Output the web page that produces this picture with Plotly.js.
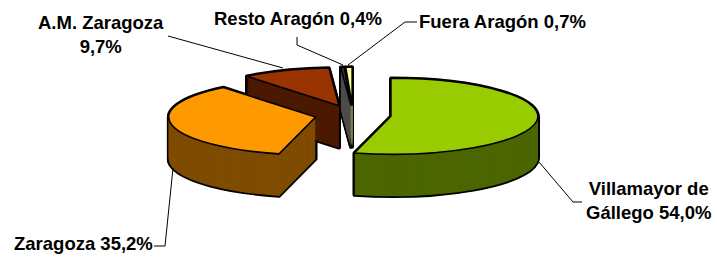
<!DOCTYPE html>
<html><head><meta charset="utf-8">
<script src="https://cdn.plot.ly/plotly-3.0.1.min.js"></script>
<style>html,body{margin:0;padding:0;background:#fff;overflow:hidden}</style>
</head><body><div id="chart" style="width:717px;height:257px"></div>
<script>
// ---- data ----
const labels = ['Villamayor de Gállego', 'Zaragoza', 'A.M. Zaragoza', 'Resto Aragón', 'Fuera Aragón'];
const values = [54.0, 35.2, 9.7, 0.4, 0.7];
const labelTexts = ['Villamayor de<br>Gállego 54,0%', 'Zaragoza 35,2%', 'A.M. Zaragoza<br>9,7%', 'Resto Aragón 0,4%', 'Fuera Aragón 0,7%'];

// ---- styles ----
const topColors = ['#99CC00', '#FF9900', '#993300', '#333333', '#FFFF99'];
const sideColors = ['#4C6600', '#7F4C00', '#4C1900', '#4D4D4D', '#7F7F4C'];
const view = {cx: 353, cy: 115, a: 147, b: 38, depth: 42, pull: 0.26};
const W = 717, H = 257;
// label centres (pixels)
const labelPos = [[648, 200], [83, 243], [101, 35], [298, 19], [502, 21]];
// leader polylines (pixels)
const leaders = [
  [[539, 162], [573, 202], [582, 202]],
  [[154, 246], [165, 246], [173, 168]],
  [[168, 36], [283, 68]],
  [[297, 37], [297, 45], [343, 65]],
  [[417, 22], [405, 22], [348, 65]]
];

function pieTrace(colors, lineColor, lineWidth) {
  return {
    type: 'pie', labels: labels, values: values, sort: false,
    direction: 'clockwise', rotation: 0, pull: view.pull,
    textinfo: 'none', hoverinfo: 'skip', showlegend: false,
    marker: {colors: colors, line: {color: lineColor, width: lineWidth}},
    domain: {x: [0, 1], y: [0, 1]}
  };
}
const traces = [], offsets = [];
for (let k = view.depth; k >= 0; k--) { traces.push(pieTrace(labels.map(() => '#000000'), '#000000', 3.5)); offsets.push(k); }
for (let k = view.depth; k >= 1; k--) { traces.push(pieTrace(sideColors, 'rgba(0,0,0,0)', 0)); offsets.push(k); }
traces.push(pieTrace(topColors, '#000000', 1.6)); offsets.push(0);

const px = (x) => x / W, py = (y) => 1 - y / H;
const font = {family: 'Liberation Sans, Arial, sans-serif', size: 18.5, color: '#000', weight: 'bold'};
const annotations = labelTexts.map((t, i) => ({
  text: t, x: px(labelPos[i][0]), y: py(labelPos[i][1]), xref: 'paper', yref: 'paper',
  xanchor: 'center', yanchor: 'middle', showarrow: false, font: font, align: 'center'
}));
const shapes = leaders.map(pts => ({
  type: 'path', xref: 'paper', yref: 'paper', layer: 'above',
  path: pts.map((p, j) => (j ? 'L' : 'M') + px(p[0]) + ',' + py(p[1])).join(' '),
  line: {color: '#000', width: 1}
}));

const layout = {
  width: W, height: H, margin: {l: 0, r: 0, t: 0, b: 0},
  paper_bgcolor: '#fff', plot_bgcolor: '#fff', showlegend: false,
  annotations: annotations, shapes: shapes
};
const gd = document.getElementById('chart');
Plotly.newPlot(gd, traces, layout, {staticPlot: true, displayModeBar: false}).then(() => {
  const groups = gd.querySelectorAll('.pielayer > g.trace');
  groups.forEach((g, i) => {
    const cd0 = gd.calcdata[i][0];
    const r = cd0.r;
    g.setAttribute('transform', 'translate(' + view.cx + ',' + (view.cy + offsets[i]) + ') scale(' + (view.a / r) + ',' + (view.b / r) + ') translate(' + (-cd0.cx) + ',' + (-cd0.cy) + ')');
    g.querySelectorAll('path').forEach(p => p.setAttribute('vector-effect', 'non-scaling-stroke'));
  });
});
</script>
</body></html>
